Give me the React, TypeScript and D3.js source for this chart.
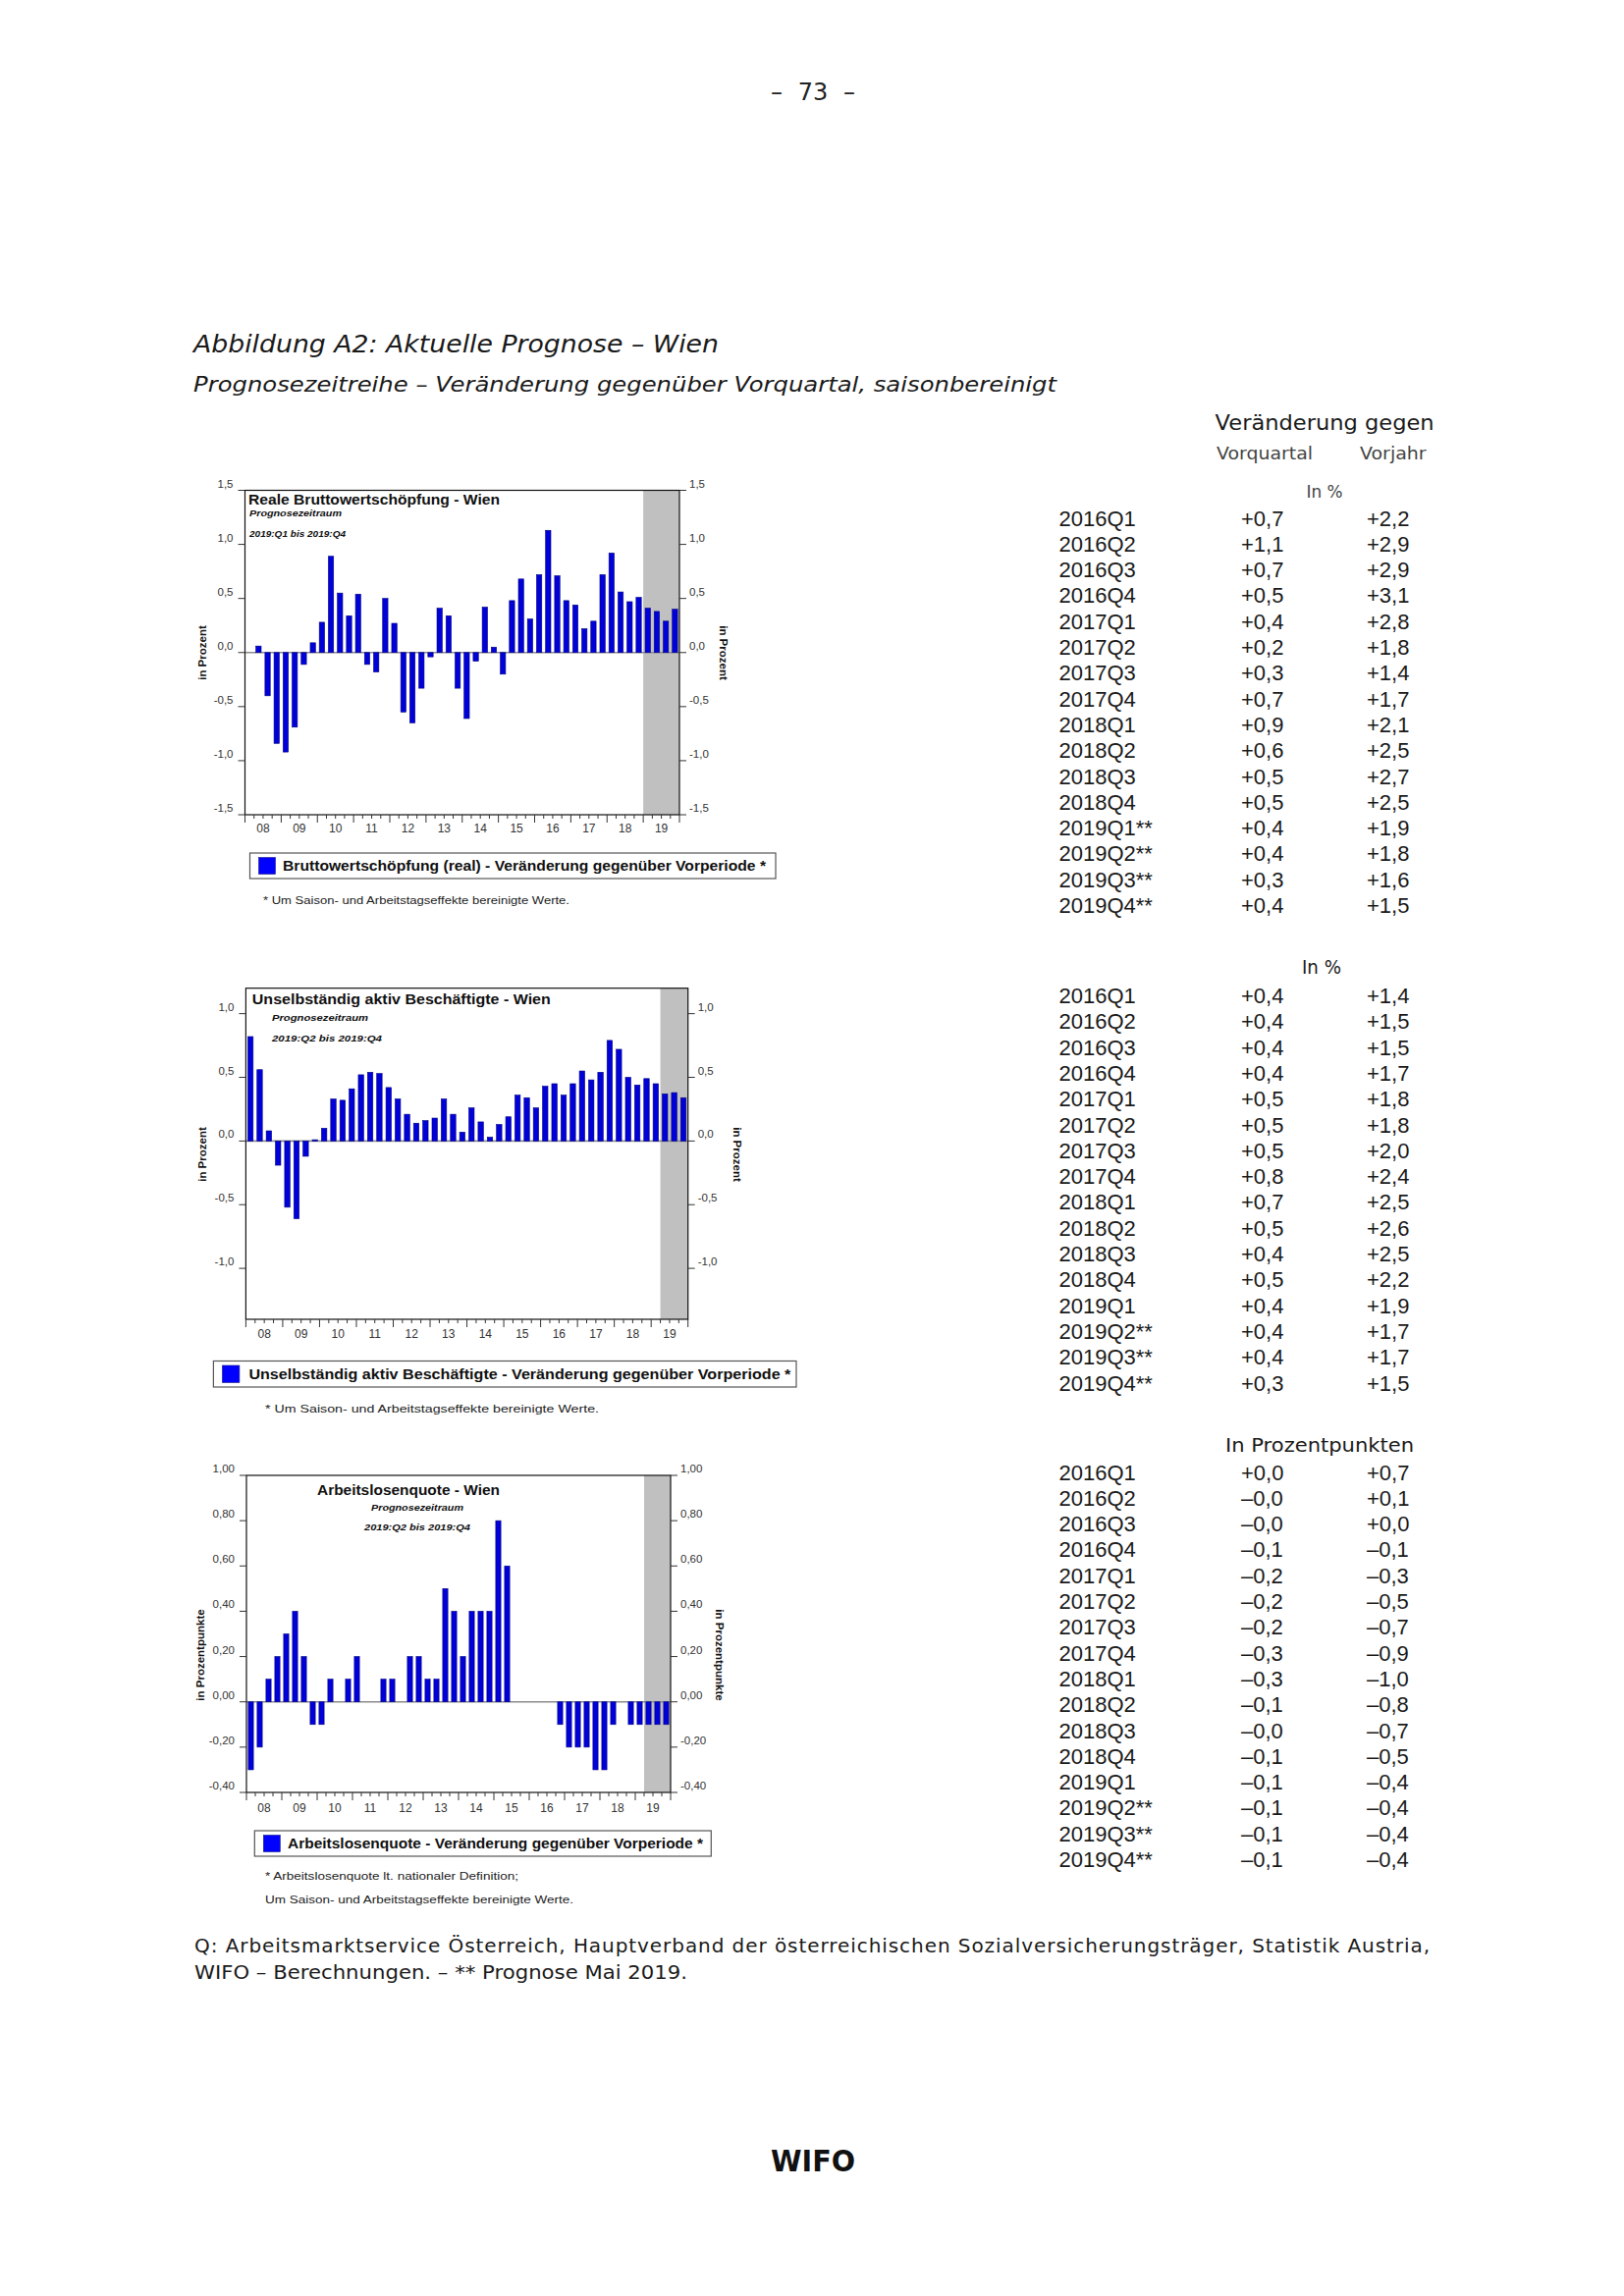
import React from "react";
import * as d3 from "d3";

// ---------- data ----------
const years = ["08", "09", "10", "11", "12", "13", "14", "15", "16", "17", "18", "19"];
const quarterNames = ["Q1", "Q2", "Q3", "Q4"];
const quarters = years.flatMap((y) => quarterNames.map((q) => `20${y}${q}`));

// Reale Bruttowertschöpfung - Wien, Veränderung gegenüber Vorperiode (%)
const bwsValues = [
  0, 0.06, -0.40, -0.84, -0.92, -0.69, -0.11, 0.09, 0.28, 0.89, 0.55, 0.34,
  0.54, -0.11, -0.18, 0.50, 0.27, -0.55, -0.65, -0.33, -0.04, 0.41, 0.34, -0.33,
  -0.61, -0.08, 0.42, 0.05, -0.20, 0.48, 0.68, 0.31, 0.72, 1.13, 0.71, 0.48,
  0.44, 0.22, 0.29, 0.72, 0.92, 0.56, 0.47, 0.51, 0.41, 0.38, 0.29, 0.40,
];
// Unselbständig aktiv Beschäftigte - Wien (%)
const empValues = [
  0.82, 0.56, 0.08, -0.19, -0.52, -0.61, -0.12, 0.01, 0.10, 0.33, 0.32, 0.41,
  0.52, 0.54, 0.53, 0.42, 0.33, 0.21, 0.14, 0.16, 0.18, 0.33, 0.21, 0.07,
  0.26, 0.15, 0.03, 0.13, 0.19, 0.36, 0.34, 0.26, 0.43, 0.45, 0.36, 0.45,
  0.55, 0.48, 0.54, 0.79, 0.72, 0.50, 0.44, 0.49, 0.45, 0.37, 0.38, 0.34,
];
// Arbeitslosenquote - Wien (Prozentpunkte)
const alqValues = [
  -0.3, -0.2, 0.1, 0.2, 0.3, 0.4, 0.2, -0.1, -0.1, 0.1, 0, 0.1,
  0.2, 0, 0, 0.1, 0.1, 0, 0.2, 0.2, 0.1, 0.1, 0.5, 0.4,
  0.2, 0.4, 0.4, 0.4, 0.8, 0.6, 0, 0, 0, 0, 0, -0.1,
  -0.2, -0.2, -0.2, -0.3, -0.3, -0.1, 0, -0.1, -0.1, -0.1, -0.1, -0.1,
];

const bwsTicks = [-1.5, -1, -0.5, 0, 0.5, 1, 1.5];
const empTicks = [-1, -0.5, 0, 0.5, 1];
const alqTicks = [-0.4, -0.2, 0, 0.2, 0.4, 0.6, 0.8, 1.0];

// table
const tableRows1 = ["2016Q1", "2016Q2", "2016Q3", "2016Q4", "2017Q1", "2017Q2", "2017Q3", "2017Q4",
  "2018Q1", "2018Q2", "2018Q3", "2018Q4", "2019Q1**", "2019Q2**", "2019Q3**", "2019Q4**"];
const tableRows23 = ["2016Q1", "2016Q2", "2016Q3", "2016Q4", "2017Q1", "2017Q2", "2017Q3", "2017Q4",
  "2018Q1", "2018Q2", "2018Q3", "2018Q4", "2019Q1", "2019Q2**", "2019Q3**", "2019Q4**"];
const bwsVq = ["+0,7", "+1,1", "+0,7", "+0,5", "+0,4", "+0,2", "+0,3", "+0,7", "+0,9", "+0,6", "+0,5", "+0,5", "+0,4", "+0,4", "+0,3", "+0,4"];
const bwsVj = ["+2,2", "+2,9", "+2,9", "+3,1", "+2,8", "+1,8", "+1,4", "+1,7", "+2,1", "+2,5", "+2,7", "+2,5", "+1,9", "+1,8", "+1,6", "+1,5"];
const empVq = ["+0,4", "+0,4", "+0,4", "+0,4", "+0,5", "+0,5", "+0,5", "+0,8", "+0,7", "+0,5", "+0,4", "+0,5", "+0,4", "+0,4", "+0,4", "+0,3"];
const empVj = ["+1,4", "+1,5", "+1,5", "+1,7", "+1,8", "+1,8", "+2,0", "+2,4", "+2,5", "+2,6", "+2,5", "+2,2", "+1,9", "+1,7", "+1,7", "+1,5"];
const alqVq = ["+0,0", "–0,0", "–0,0", "–0,1", "–0,2", "–0,2", "–0,2", "–0,3", "–0,3", "–0,1", "–0,0", "–0,1", "–0,1", "–0,1", "–0,1", "–0,1"];
const alqVj = ["+0,7", "+0,1", "+0,0", "–0,1", "–0,3", "–0,5", "–0,7", "–0,9", "–1,0", "–0,8", "–0,7", "–0,5", "–0,4", "–0,4", "–0,4", "–0,4"];

// ---------- helpers ----------
const SANS = "'Liberation Sans', Arial, sans-serif";
const WIDE = "'DejaVu Sans', Verdana, sans-serif";
const deLocale = d3.formatLocale({ decimal: ",", thousands: ".", grouping: [3], currency: ["", ""], minus: "-" });

type TProps = {
  x: number; y: number; children: React.ReactNode; size?: number; weight?: string | number;
  italic?: boolean; anchor?: "start" | "middle" | "end"; len?: number; adjust?: string;
  fill?: string; family?: string; transform?: string;
};
const T = ({ x, y, children, size = 12, weight = "normal", italic = false, anchor = "start", len, adjust = "spacingAndGlyphs", fill = "#111", family = SANS, transform }: TProps) => (
  <text x={x} y={y} fontSize={size} fontWeight={weight} fontStyle={italic ? "italic" : "normal"}
    textAnchor={anchor} textLength={len} lengthAdjust={len ? adjust : undefined} fill={fill}
    fontFamily={family} transform={transform}>{children}</text>
);

type Box = { l: number; r: number; t: number; b: number };
type ChartProps = {
  values: number[]; domain: [number, number]; ticks: number[]; fmt: string; box: Box;
  forecastFrom: number; yTitle: string; leftTitleX: number; rightTitleX: number;
  titleCY: number; xLabelY: number;
};

function BarChart({ values, domain, ticks, fmt, box, forecastFrom, yTitle, leftTitleX, rightTitleX, titleCY, xLabelY }: ChartProps) {
  const x = d3.scaleBand<string>().domain(quarters).range([box.l, box.r]).paddingInner(0.42).paddingOuter(0.21);
  const y = d3.scaleLinear().domain(domain).range([box.b, box.t]);
  const step = x.step();
  const f = deLocale.format(fmt);
  const data = quarters.map((q, i) => ({ q, v: values[i] })).filter((d) => d.v !== 0);
  return (
    <g>
      <rect x={box.l + forecastFrom * step} y={box.t} width={box.r - box.l - forecastFrom * step} height={box.b - box.t} fill="#c0c0c0" />
      <line x1={box.l} x2={box.r} y1={y(0)} y2={y(0)} stroke="#8c8c8c" strokeWidth={1.6} />
      {data.map((d) => (
        <rect key={d.q} x={x(d.q)} width={x.bandwidth()} y={Math.min(y(d.v), y(0))}
          height={Math.abs(y(d.v) - y(0))} fill="#0000d8" stroke="#000080" strokeWidth={0.6} />
      ))}
      <rect x={box.l} y={box.t} width={box.r - box.l} height={box.b - box.t} fill="none" stroke="#111" strokeWidth={1.2} />
      {ticks.map((t) => (
        <g key={t}>
          <line x1={box.l - 7} x2={box.l} y1={y(t)} y2={y(t)} stroke="#333" strokeWidth={1} />
          <line x1={box.r} x2={box.r + 7} y1={y(t)} y2={y(t)} stroke="#333" strokeWidth={1} />
          <T x={box.l - 12} y={y(t) - 3} size={11.5} anchor="end" fill="#333">{f(t)}</T>
          <T x={box.r + 10} y={y(t) - 3} size={11.5} fill="#333">{f(t)}</T>
        </g>
      ))}
      {d3.range(quarters.length + 1).map((i) => (
        <line key={i} x1={box.l + i * step} x2={box.l + i * step} y1={box.b} y2={box.b + (i % 4 === 0 ? 8 : 4)} stroke="#333" strokeWidth={1} />
      ))}
      {years.map((yr, k) => (
        <T key={yr} x={box.l + (4 * k + 2) * step} y={xLabelY} size={12} anchor="middle" fill="#333">{yr}</T>
      ))}
      <T x={0} y={0} size={11.5} weight="bold" anchor="middle" transform={`translate(${leftTitleX},${titleCY}) rotate(-90)`}>
        <tspan dy="0.35em">{yTitle}</tspan>
      </T>
      <T x={0} y={0} size={11.5} weight="bold" anchor="middle" transform={`translate(${rightTitleX},${titleCY}) rotate(90)`}>
        <tspan dy="0.35em">{yTitle}</tspan>
      </T>
    </g>
  );
}

function Legend({ bx, by, bw, bh, text, tx, len, size = 14 }: { bx: number; by: number; bw: number; bh: number; text: string; tx: number; len: number; size?: number }) {
  const sq = bh - 9;
  return (
    <g>
      <rect x={bx} y={by} width={bw} height={bh} fill="#fff" stroke="#555" strokeWidth={1.2} />
      <rect x={bx + 9} y={by + (bh - sq) / 2} width={sq} height={sq} fill="#0000ff" stroke="#1a1a80" strokeWidth={0.6} />
      <T x={tx} y={by + bh / 2 + size * 0.36} size={size} weight="bold" len={len}>{text}</T>
    </g>
  );
}

function TableSection({ rows, vq, vj, y0 }: { rows: string[]; vq: string[]; vj: string[]; y0: number }) {
  const step = 26.3;
  return (
    <g>
      {rows.map((r, k) => {
        const yy = y0 + k * step + 8;
        return (
          <g key={r}>
            <T x={1078.5} y={yy} size={22} fill="#1a1a1a">{r}</T>
            <T x={1264} y={yy} size={22} fill="#1a1a1a">{vq[k]}</T>
            <T x={1392} y={yy} size={22} fill="#1a1a1a">{vj[k]}</T>
          </g>
        );
      })}
    </g>
  );
}

export default function App() {
  return (
    <svg width={1654} height={2339} viewBox="0 0 1654 2339" style={{ position: "absolute", left: 0, top: 0, background: "#fff" }}>
      <rect x={0} y={0} width={1654} height={2339} fill="#fff" />
      {/* page header */}
      <T x={791} y={102} size={24} anchor="middle" family={WIDE} fill="#222">–</T>
      <T x={828} y={102} size={24} anchor="middle" family={WIDE} fill="#222">73</T>
      <T x={865} y={102} size={24} anchor="middle" family={WIDE} fill="#222">–</T>
      <T x={197} y={359} size={24} italic family={WIDE} len={535} fill="#1a1a1a">Abbildung A2: Aktuelle Prognose – Wien</T>
      <T x={197} y={399} size={21} italic family={WIDE} len={879} fill="#1a1a1a">Prognosezeitreihe – Veränderung gegenüber Vorquartal, saisonbereinigt</T>

      {/* chart 1 */}
      <BarChart values={bwsValues} domain={[-1.5, 1.5]} ticks={bwsTicks} fmt=".1f"
        box={{ l: 249.5, r: 692, t: 499.5, b: 830 }} forecastFrom={44} yTitle="in Prozent"
        leftTitleX={206} rightTitleX={737} titleCY={665} xLabelY={848} />
      <T x={253} y={514} size={14} weight="bold" len={256}>Reale Bruttowertschöpfung - Wien</T>
      <T x={254} y={526} size={8.5} weight="bold" italic len={94}>Prognosezeitraum</T>
      <T x={254} y={546.5} size={9} weight="bold" italic len={98}>2019:Q1 bis 2019:Q4</T>
      <Legend bx={254.5} by={869} bw={535.5} bh={26} tx={288} len={492} text="Bruttowertschöpfung (real) - Veränderung gegenüber Vorperiode *" />
      <T x={268} y={921} size={10} len={312} fill="#222">* Um Saison- und Arbeitstagseffekte bereinigte Werte.</T>

      {/* chart 2 */}
      <BarChart values={empValues} domain={[-1.4, 1.2]} ticks={empTicks} fmt=".1f"
        box={{ l: 250.4, r: 700.7, t: 1006.7, b: 1344 }} forecastFrom={45} yTitle="in Prozent"
        leftTitleX={206} rightTitleX={751} titleCY={1176} xLabelY={1363} />
      <T x={256.8} y={1023} size={14.5} weight="bold" len={304}>Unselbständig aktiv Beschäftigte - Wien</T>
      <T x={277} y={1040} size={9.5} weight="bold" italic len={98}>Prognosezeitraum</T>
      <T x={277} y={1061} size={9.5} weight="bold" italic len={112}>2019:Q2 bis 2019:Q4</T>
      <Legend bx={217.4} by={1386.5} bw={593.6} bh={26.5} tx={253.4} len={552} size={14.5} text="Unselbständig aktiv Beschäftigte - Veränderung gegenüber Vorperiode *" />
      <T x={270} y={1439} size={10.5} len={340} fill="#222">* Um Saison- und Arbeitstagseffekte bereinigte Werte.</T>

      {/* chart 3 */}
      <BarChart values={alqValues} domain={[-0.4, 1.0]} ticks={alqTicks} fmt=".2f"
        box={{ l: 251, r: 683, t: 1503, b: 1826 }} forecastFrom={45} yTitle="in Prozentpunkte"
        leftTitleX={204} rightTitleX={733} titleCY={1686} xLabelY={1846} />
      <T x={416} y={1523} size={14} weight="bold" anchor="middle" len={186}>Arbeitslosenquote - Wien</T>
      <T x={425} y={1539} size={9} weight="bold" italic anchor="middle" len={94}>Prognosezeitraum</T>
      <T x={425} y={1559} size={9} weight="bold" italic anchor="middle" len={108}>2019:Q2 bis 2019:Q4</T>
      <Legend bx={259.3} by={1865} bw={465} bh={26} tx={293} len={423} text="Arbeitslosenquote - Veränderung gegenüber Vorperiode *" />
      <T x={270} y={1915} size={10} len={258} fill="#222">* Arbeitslosenquote lt. nationaler Definition;</T>
      <T x={270} y={1939} size={10} len={314} fill="#222">Um Saison- und Arbeitstagseffekte bereinigte Werte.</T>

      {/* table */}
      <T x={1237.6} y={438} size={21} family={WIDE} len={223} fill="#1a1a1a">Veränderung gegen</T>
      <T x={1239} y={468} size={18} family={WIDE} len={98} fill="#444">Vorquartal</T>
      <T x={1385} y={468} size={18} family={WIDE} len={67.6} fill="#444">Vorjahr</T>
      <T x={1330.6} y={507} size={18} family={WIDE} len={37} fill="#444">In %</T>
      <TableSection rows={tableRows1} vq={bwsVq} vj={bwsVj} y0={527.5} />
      <T x={1326} y={992} size={20} family={WIDE} len={40} fill="#1a1a1a">In %</T>
      <TableSection rows={tableRows23} vq={empVq} vj={empVj} y0={1014} />
      <T x={1248} y={1479} size={20} family={WIDE} len={192} fill="#1a1a1a">In Prozentpunkten</T>
      <TableSection rows={tableRows23} vq={alqVq} vj={alqVj} y0={1499.5} />

      {/* source */}
      <T x={198} y={1989} size={20} family={WIDE} len={1258} adjust="spacing" fill="#1a1a1a">Q: Arbeitsmarktservice Österreich, Hauptverband der österreichischen Sozialversicherungsträger, Statistik Austria,</T>
      <T x={198} y={2016} size={20} family={WIDE} len={502} fill="#1a1a1a">WIFO – Berechnungen. – ** Prognose Mai 2019.</T>

      {/* footer logo */}
      <T x={828} y={2212} size={30} weight="bold" anchor="middle" family={WIDE} len={86} fill="#111">WIFO</T>
    </svg>
  );
}
